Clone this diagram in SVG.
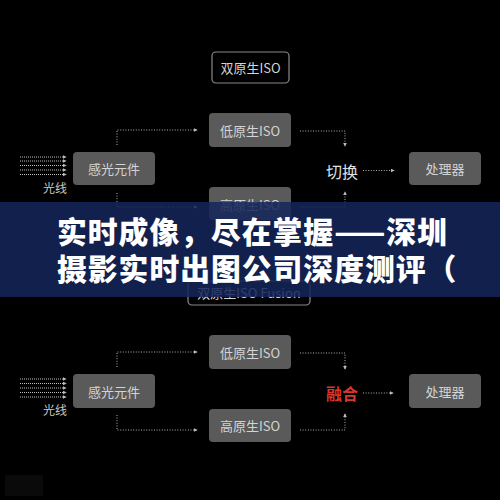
<svg xmlns="http://www.w3.org/2000/svg" width="500" height="500" viewBox="0 0 500 500">
<defs>
<marker id="ah" viewBox="0 0 6 6" refX="5" refY="3" markerWidth="4" markerHeight="4" orient="auto" markerUnits="userSpaceOnUse">
<path d="M0,0 L6,3 L0,6 z" fill="#bbbbbb"/>
</marker>
<style>
text{font-family:"Noto Sans CJK SC","Noto Sans",sans-serif;}
.box{fill:#5a5a5a;}
.frame{fill:#000;stroke:#8a8a8a;stroke-width:1.2;}
.lbl{fill:#d4d4d4;font-size:13px;text-anchor:middle;dominant-baseline:central;}
.big{fill:#e0e0e0;font-size:16px;text-anchor:middle;dominant-baseline:central;}
.red{fill:#d9372a;font-size:16px;font-weight:bold;text-anchor:middle;dominant-baseline:central;}
.sm{fill:#c8c8c8;font-size:12px;text-anchor:middle;dominant-baseline:central;}
.dot{fill:none;stroke:#b0b0b0;stroke-width:1;stroke-dasharray:1 1.6;marker-end:url(#ah);}
.ray{fill:none;stroke:#c0c0c0;stroke-width:1.1;stroke-dasharray:1 1;marker-end:url(#ah);}
.ttl{fill:#ffffff;font-size:29.8px;font-weight:900;letter-spacing:1px;}
</style>
</defs>
<rect width="500" height="500" fill="#000"/>

<g id="connectors">
<path class="ray" d="M20,157H66"/>
<path class="ray" d="M20,161H66"/>
<path class="ray" d="M20,165.5H66"/>
<path class="ray" d="M20,170H66"/>
<path class="ray" d="M20,174.5H66"/>
<path class="dot" d="M117,145V130H197"/>
<path class="dot" d="M300,131H345V146"/>
<path class="dot" d="M117,193V207H197"/>
<path class="dot" d="M300,207H345V192"/>
<path class="dot" d="M363,170.5H394"/>
<path class="ray" d="M20,379H66"/>
<path class="ray" d="M20,383.5H66"/>
<path class="ray" d="M20,388H66"/>
<path class="ray" d="M20,392.5H66"/>
<path class="ray" d="M20,397H66"/>
<path class="dot" d="M117,367V352H197"/>
<path class="dot" d="M300,353H345V369"/>
<path class="dot" d="M117,415V430H197"/>
<path class="dot" d="M300,430H345V414"/>
<path class="dot" d="M363,393H393"/>
</g>

<g id="dual-iso"><rect class="frame" x="212" y="52" width="77" height="31" rx="4"/><text class="lbl" x="250.5" y="67.5">双原生ISO</text></g>
<g id="low-iso-1"><rect class="box" x="209" y="113" width="82" height="34" rx="4"/><text class="lbl" x="250" y="130">低原生ISO</text></g>
<g id="sensor-1"><rect class="box" x="73" y="152" width="82" height="33" rx="4"/><text class="lbl" x="114" y="168.5">感光元件</text></g>
<g id="light-1"><text class="sm" x="55" y="187">光线</text></g>
<g id="switch"><text class="big" x="342" y="171">切换</text></g>
<g id="cpu-1"><rect class="box" x="409" y="152" width="72" height="33" rx="4"/><text class="lbl" x="445" y="168.5">处理器</text></g>
<g id="high-iso-1"><rect class="box" x="209" y="187" width="82" height="33" rx="4"/><text class="lbl" x="250" y="204">高原生ISO</text></g>
<g id="fusion-title"><rect class="frame" x="188" y="281" width="122" height="24" rx="4"/><text class="lbl" x="249" y="292">双原生ISO Fusion</text></g>

<g id="low-iso-2"><rect class="box" x="209" y="335" width="82" height="34" rx="4"/><text class="lbl" x="250" y="352">低原生ISO</text></g>
<g id="sensor-2"><rect class="box" x="73" y="374" width="82" height="34" rx="4"/><text class="lbl" x="114" y="391">感光元件</text></g>
<g id="light-2"><text class="sm" x="55" y="409">光线</text></g>
<g id="merge"><text class="red" x="342" y="393">融合</text></g>
<g id="cpu-2"><rect class="box" x="409" y="374" width="72" height="34" rx="4"/><text class="lbl" x="445" y="391">处理器</text></g>
<g id="high-iso-2"><rect class="box" x="209" y="409" width="82" height="33" rx="4"/><text class="lbl" x="250" y="425.5">高原生ISO</text></g>

<rect x="5" y="475" width="38" height="21" fill="#0a0a0a"/>

<g id="banner">
<rect x="0" y="202" width="500" height="95" fill="#15255a" opacity="0.86"/>
<text class="ttl" x="57" y="243">实时成像，尽在掌握——深圳</text>
<text class="ttl" x="57" y="280">摄影实时出图公司深度测评（</text>
</g>
</svg>
